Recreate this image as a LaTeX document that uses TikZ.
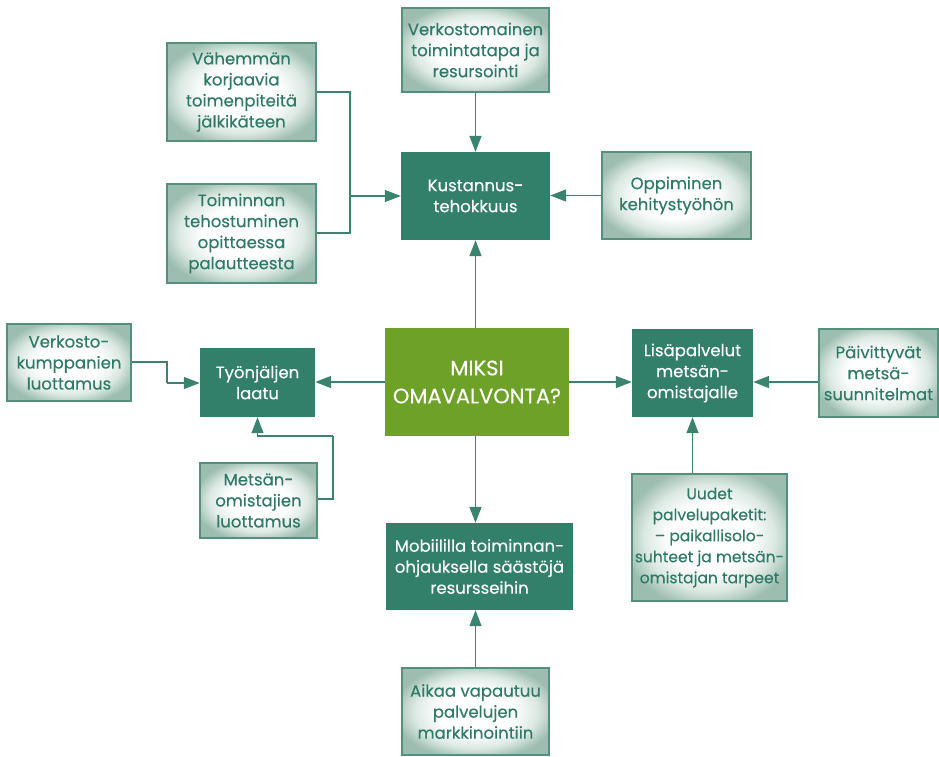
\documentclass[tikz,border=0pt]{standalone}
\usepackage{fontspec}
\setmainfont{Poppins}[FakeBold=0.3]
\usetikzlibrary{arrows.meta}
\definecolor{darkbox}{HTML}{327F6A}
\definecolor{olivebox}{HTML}{6EA128}
\definecolor{lineclr}{HTML}{3A846F}
\definecolor{lighttext}{HTML}{2F7A66}
\definecolor{lightedge}{HTML}{9DBDB0}
\definecolor{lightmid}{HTML}{DCE9E3}
\definecolor{lightborder}{HTML}{54917D}
\pgfdeclareradialshading{softglow}{\pgfpoint{0bp}{0bp}}{%
  color(0bp)=(white); color(13bp)=(white); color(21bp)=(lightmid);
  color(28bp)=(lightedge); color(50bp)=(lightedge)}
\tikzset{
  every node/.style={font=\fontsize{16.5}{21}\selectfont, align=center, inner sep=2pt},
  darknode/.style={fill=darkbox, text=white},
  mainnode/.style={fill=olivebox, text=white, font=\fontsize{21}{28}\selectfont},
  lightnode/.style={shading=softglow, draw=lightborder, line width=1.3pt, text=lighttext},
  conn/.style={draw=lineclr, line width=1.4pt, -{Triangle[length=16pt,width=12pt]}},
  plainconn/.style={draw=lineclr, line width=1.4pt},
}
\begin{document}
\begin{tikzpicture}[x=1pt,y=-1pt]
\useasboundingbox (0,0) rectangle (939,756);
% nodes: centre, width, height
\node[lightnode, minimum width=147pt, minimum height=84pt] (verk) at (475.5,50) {Verkostomainen\\toimintatapa ja\\resursointi};
\node[lightnode, minimum width=149pt, minimum height=98pt] (vah) at (241.5,92) {Vähemmän\\korjaavia\\toimenpiteitä\\jälkikäteen};
\node[lightnode, minimum width=149pt, minimum height=99pt] (toim) at (241.5,233.5) {Toiminnan\\tehostuminen\\opittaessa\\palautteesta};
\node[darknode, minimum width=149pt, minimum height=88pt] (kust) at (475.5,196) {Kustannus-\\tehokkuus};
\node[lightnode, minimum width=149pt, minimum height=87pt] (opp) at (676.5,195.5) {Oppiminen\\kehitystyöhön};
\node[mainnode, minimum width=184pt, minimum height=108pt] (miksi) at (477,382) {MIKSI\\OMAVALVONTA?};
\node[darknode, minimum width=121pt, minimum height=88pt] (lisa) at (692.5,373) {Lisäpalvelut\\metsän-\\omistajalle};
\node[lightnode, minimum width=124pt, minimum height=77pt] (vkump) at (69,362.5) {Verkosto-\\kumppanien\\luottamus};
\node[darknode, minimum width=115pt, minimum height=69pt] (tyon) at (257.5,382.5) {Työnjäljen\\laatu};
\node[lightnode, minimum width=117pt, minimum height=75pt] (mets) at (258.5,500.5) {Metsän-\\omistajien\\luottamus};
\node[lightnode, minimum width=119pt, minimum height=88pt] (paiv) at (878.5,373) {Päivittyvät\\metsä-\\suunnitelmat};
\node[lightnode, minimum width=155pt, minimum height=127pt, inner sep=0pt,
      font=\fontsize{15.5}{21}\selectfont] (uudet) at (709.5,537.5) {Uudet\\palvelupaketit:\\– paikallisolo-\\suhteet ja metsän-\\omistajan tarpeet};
\node[darknode, minimum width=187pt, minimum height=87pt] (mobi) at (479.5,566.5) {Mobiililla toiminnan-\\ohjauksella säästöjä\\resursseihin};
\node[lightnode, minimum width=147pt, minimum height=87pt] (aikaa) at (475.5,711.5) {Aikaa vapautuu\\palvelujen\\markkinointiin};
% junction points of the elbow connectors
\coordinate (jtop) at (350,196);
\coordinate (jleft) at (167,383);
\coordinate (jlow) at (333,436);
% connectors
\draw[conn] (verk.south) -- (kust.north);
\draw[plainconn] (vah.east |- 0,92) -| (jtop);
\draw[plainconn] (toim.east |- 0,233) -| (jtop);
\draw[conn] (jtop) -- (kust.west |- jtop);
\draw[conn] (opp.west) -- (kust.east |- opp.west);
\draw[conn] (kust.south |- miksi.north) -- (kust.south);
\draw[conn] (miksi.west) -- (tyon.east |- miksi.west);
\draw[conn] (miksi.east) -- (lisa.west |- miksi.east);
\draw[conn] (paiv.west |- 0,382) -- (lisa.east |- 0,382);
\draw[conn] (lisa.south |- uudet.north) -- (lisa.south);
\draw[conn] (kust.south |- miksi.south) -- (kust.south |- mobi.north);
\draw[conn] (aikaa.north) -- (aikaa.north |- mobi.south);
\draw[plainconn] (vkump.east |- 0,362) -| (jleft);
\draw[conn] (jleft) -- (tyon.west |- jleft);
\draw[plainconn] (mets.east |- 0,499) -| (jlow);
\draw[conn] (jlow) -| (tyon.south);
\end{tikzpicture}
\end{document}
